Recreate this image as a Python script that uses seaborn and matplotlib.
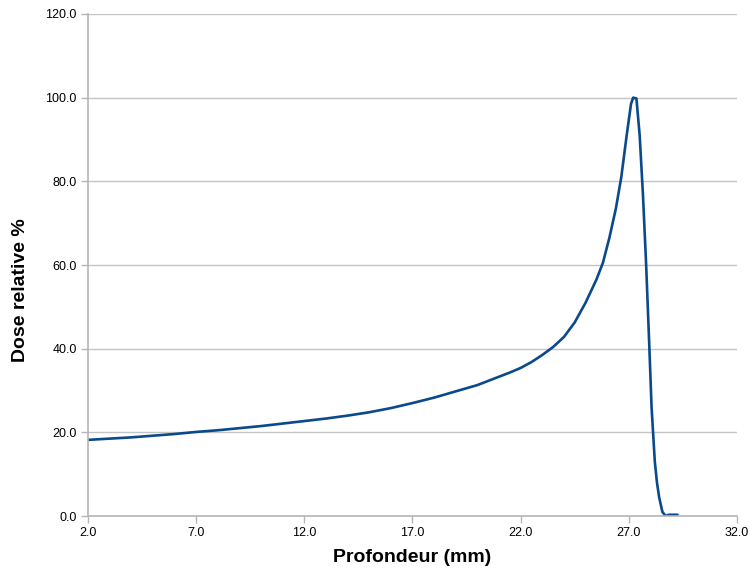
"""
Bragg peak depth-dose curve
"""

import matplotlib
matplotlib.use("Agg")
import matplotlib.pyplot as plt
import seaborn as sns
import pandas as pd

# depth in mm and relative dose in %
depth = [2.0, 3.0, 4.0, 5.0, 6.0, 7.0, 8.0, 9.0, 10.0, 11.0, 12.0, 13.0,
         14.0, 15.0, 16.0, 17.0, 18.0, 19.0, 20.0, 21.0, 21.5, 22.0, 22.5, 23.0,
         23.5, 24.0, 24.5, 25.0, 25.5, 25.8, 26.1, 26.4, 26.65, 26.9, 27.1,
         27.2, 27.35, 27.5, 27.65, 27.8, 27.95, 28.05, 28.2, 28.3, 28.4,
         28.55, 28.7, 28.85, 29.0, 29.25]
dose = [18.2, 18.5, 18.8, 19.2, 19.6, 20.1, 20.5, 21.0, 21.5, 22.1, 22.7, 23.3,
        24.0, 24.8, 25.8, 27.0, 28.3, 29.8, 31.3, 33.3, 34.3, 35.4, 36.8, 38.5,
        40.4, 42.8, 46.3, 51.0, 56.5, 60.5, 66.5, 73.5, 81.0, 91.0, 98.5,
        100.0, 99.8, 91.0, 77.0, 60.0, 40.0, 26.0, 13.0, 8.0, 4.5,
        1.0, 0.0, 0.3, 0.3, 0.3]

x_ticks = [2.0, 7.0, 12.0, 17.0, 22.0, 27.0, 32.0]
y_ticks = [0.0, 20.0, 40.0, 60.0, 80.0, 100.0, 120.0]

LINE_COLOR = "#0a4a8c"
GRID_COLOR = "#c4c4c4"

sns.set_style("white")
plt.rcParams['font.family'] = ['Liberation Sans', 'DejaVu Sans']

df = pd.DataFrame({"Profondeur (mm)": depth, "Dose relative %": dose})

fig = plt.figure(figsize=(7.5, 5.68), dpi=100)
ax = fig.add_axes([0.1173, 0.0915, 0.8654, 0.8839])

sns.lineplot(data=df, x="Profondeur (mm)", y="Dose relative %", ax=ax,
             color=LINE_COLOR, linewidth=1.9, sort=False)

ax.set_xlim(2.0, 32.0)
ax.set_ylim(0.0, 120.0)
ax.set_xticks(x_ticks)
ax.set_yticks(y_ticks)
ax.set_xticklabels([f"{v:.1f}" for v in x_ticks], fontsize=9)
ax.set_yticklabels([f"{v:.1f}" for v in y_ticks], fontsize=9)

ax.yaxis.grid(True, color=GRID_COLOR, linewidth=1.0)
ax.xaxis.grid(False)
ax.set_axisbelow(True)

for side in ["top", "right"]:
    ax.spines[side].set_visible(False)
for side in ["left", "bottom"]:
    ax.spines[side].set_color("#b5b5b5")
    ax.spines[side].set_linewidth(1.2)

ax.tick_params(axis="both", direction="out", length=5, width=1.0,
               color="#b5b5b5", labelcolor="black", pad=3,
               bottom=True, left=True)

ax.set_xlabel("Profondeur (mm)", fontsize=14, fontweight="bold",
              color="black", labelpad=7)
ax.set_ylabel("Dose relative %", fontsize=14, fontweight="bold",
              color="black")
# label sits a bit below the axes centre in the original
ax.yaxis.set_label_coords(-0.091, 0.45)

fig.savefig("out.png", dpi=100)
plt.close(fig)
